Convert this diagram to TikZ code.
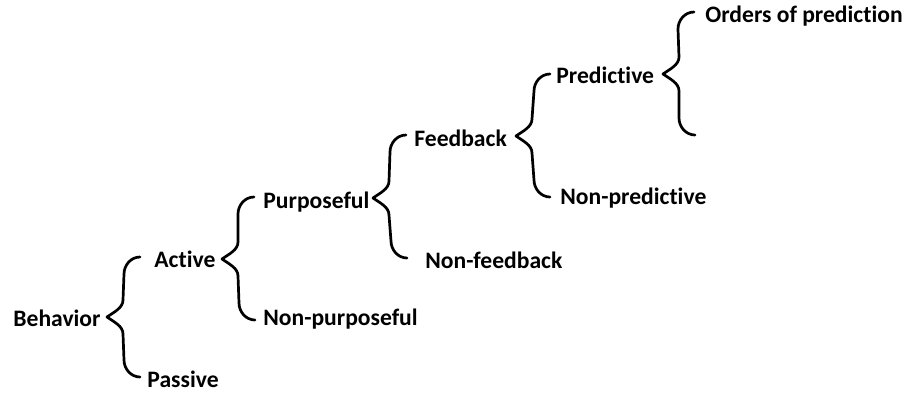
\documentclass[tikz,border=0pt]{standalone}
\usepackage{fontspec}
\setmainfont{Carlito}[Ligatures=NoCommon]
\usepackage{tikz}
\usetikzlibrary{calc}

\tikzset{
  term/.style={anchor=base west, inner sep=0pt, font=\fontsize{11.8}{14}\selectfont\bfseries},
  curly/.style={line width=1.35pt, line cap=round, line join=round},
  brace in/.style={to path={.. controls +(-9,0) and +(0,-9) .. ++(-16,17) -- ($(\tikztotarget)+(16,-17)$) .. controls +(0,8) and +(7,-5) .. (\tikztotarget) \tikztonodes}},
  brace out/.style={to path={.. controls +(7,5) and +(0,-8) .. ($(\tikztostart)+(16,17)$) -- ($(\tikztotarget)+(-16,-17)$) .. controls +(0,9) and +(-9,0) .. (\tikztotarget) \tikztonodes}}
}

\begin{document}
\begin{tikzpicture}[x=0.5pt, y=-0.5pt]
            \useasboundingbox (0,0) rectangle (905,392);
            \node[term] (behavior) at (13,326) {Behavior};
            \node[term] (active) at (154,267) {Active};
            \node[term] (passive) at (147,387) {Passive};
            \node[term] (purposeful) at (263,208) {Purposeful};
            \node[term] (nonpurposeful) at (263,325) {Non-purposeful};
            \node[term] (feedback) at (414,146) {Feedback};
            \node[term] (nonfeedback) at (425,268) {Non-feedback};
            \node[term] (predictive) at (556,83) {Predictive};
            \node[term] (nonpredictive) at (560,204) {Non-predictive};
            \node[term] (orders) at (705,22) {Orders of prediction};

            \coordinate (top1) at (140,257);
            \coordinate (tip1) at (107,317);
            \coordinate (bot1) at (140,377);
            \coordinate (top2) at (254,197);
            \coordinate (tip2) at (222,259);
            \coordinate (bot2) at (255,320);
            \coordinate (top3) at (406,135);
            \coordinate (tip3) at (373,198);
            \coordinate (bot3) at (407,258);
            \coordinate (top4) at (550,74);
            \coordinate (tip4) at (516,136);
            \coordinate (bot4) at (550,197);
            \coordinate (top5) at (694,12);
            \coordinate (tip5) at (663,74);
            \coordinate (bot5) at (695,135);

            \draw[curly] (top1) to[brace in] (tip1) to[brace out] (bot1);
            \draw[curly] (top2) to[brace in] (tip2) to[brace out] (bot2);
            \draw[curly] (top3) to[brace in] (tip3) to[brace out] (bot3);
            \draw[curly] (top4) to[brace in] (tip4) to[brace out] (bot4);
            \draw[curly] (top5) to[brace in] (tip5) to[brace out] (bot5);
        \end{tikzpicture}
\end{document}
